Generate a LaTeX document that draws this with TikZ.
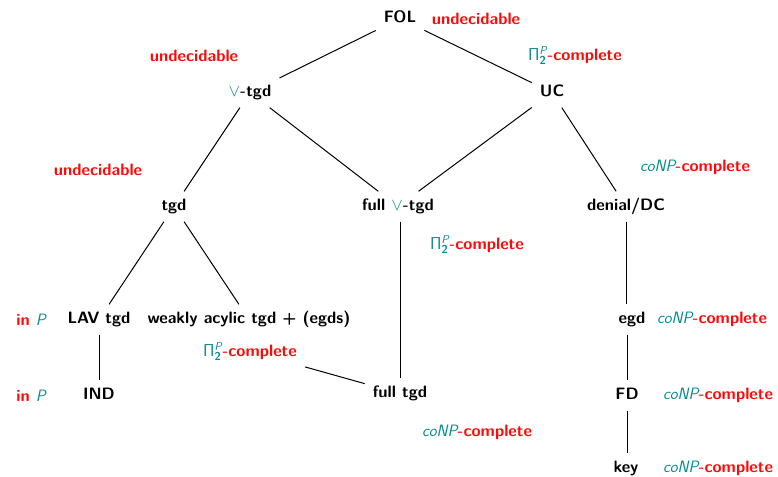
\documentclass[tikz,border=0pt]{standalone}
\usepackage{xcolor}
\definecolor{cred}{RGB}{255,10,10}
\definecolor{cteal}{RGB}{10,140,140}
\newcommand{\PiTwoP}{{\color{cteal}$\mathsf{\Pi}^{\mbox{\fontsize{11.5}{12}\selectfont\sffamily\mdseries\itshape P}}_{\mbox{\fontsize{11.5}{12}\selectfont\sffamily\bfseries 2}}$}}
\newcommand{\coNP}{{\color{cteal}\mdseries\itshape coNP}}
\newcommand{\cpl}{{\color{cred}-complete}}
\newcommand{\inP}{{\color{cred}in} {\color{cteal}\mdseries\itshape P}}
\newcommand{\tvee}{{\color{cteal}$\vee$}}
\begin{document}
\begin{tikzpicture}[x=1pt,y=-1pt,
  every node/.style={font=\sffamily\bfseries\fontsize{16.5}{19}\selectfont,yshift=-1.5pt},
  cnode/.style={inner sep=8pt,text height=11pt,text depth=3pt},
  lab/.style={inner sep=2pt},
  red lab/.style={lab,text=cred},
  edge/.style={draw=black,line width=1pt}]
\useasboundingbox (0,0) rectangle (778,476);
% main nodes
\node[cnode] (fol) at (400,17) {FOL};
\node[cnode] (vtgd) at (250,91) {\tvee-tgd};
\node[cnode] (uc) at (552,91) {UC};
\node[cnode] (tgd) at (174,205) {tgd};
\node[cnode] (fvtgd) at (398,205) {full \tvee-tgd};
\node[cnode] (dc) at (626,205) {denial/DC};
\node[cnode] (lav) at (99,318) {LAV tgd};
\node[cnode] (wa) at (249,318) {weakly acylic tgd + (egds)};
\node[cnode] (egd) at (632,318) {egd};
\node[cnode] (ind) at (99,394) {IND};
\node[cnode] (ftgd) at (400,392) {full tgd};
\node[cnode] (fd) at (627,394) {FD};
\node[cnode] (key) at (626,467) {key};
% labels
\node[red lab] (l1) at (476,17) {undecidable};
\node[red lab] (l2) at (194,54) {undecidable};
\node[lab] (l3) at (575,54) {\PiTwoP\cpl};
\node[red lab] (l4) at (98,168) {undecidable};
\node[lab] (l5) at (695,166) {\coNP\cpl};
\node[lab] (l6) at (477,243) {\PiTwoP\cpl};
\node[lab] (l7) at (31,318) {\inP};
\node[lab] (l8) at (712,318) {\coNP\cpl};
\node[lab,inner sep=8pt] (l9) at (250,350) {\PiTwoP\cpl};
\node[lab] (l10) at (31,394) {\inP};
\node[lab] (l11) at (718,394) {\coNP\cpl};
\node[lab] (l12) at (477,431) {\coNP\cpl};
\node[lab] (l13) at (718,467) {\coNP\cpl};
% edges
\draw[edge] (fol) -- (vtgd);
\draw[edge] (fol) -- (uc);
\draw[edge] (vtgd) -- (tgd);
\draw[edge] (vtgd) -- (fvtgd);
\draw[edge] (uc) -- (fvtgd);
\draw[edge] (uc) -- (dc);
\draw[edge] (tgd) -- (lav);
\draw[edge] (tgd) -- (wa);
\draw[edge] (fvtgd.south -| ftgd) -- (ftgd);
\draw[edge] (dc) -- (dc |- egd.north);
\draw[edge] (lav) -- (ind);
\draw[edge] (fd |- egd.south) -- (fd);
\draw[edge] (fd) -- (fd |- key.north);
\draw[edge] (l9) -- (ftgd);
\end{tikzpicture}
\end{document}
